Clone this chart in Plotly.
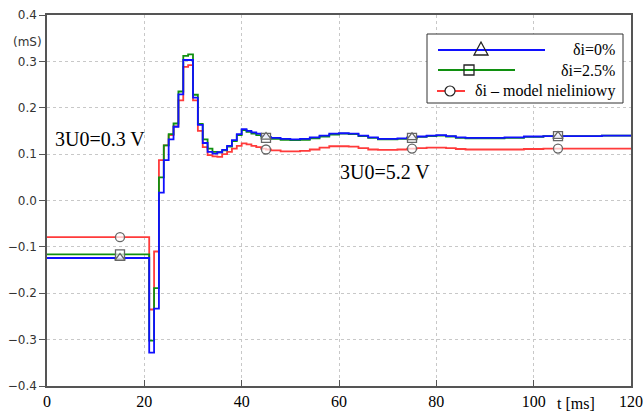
import numpy as np
import plotly.graph_objects as go

# sample times [ms]
t_ms = [0, 21, 22, 23, 24, 25, 26, 27, 28, 29, 30, 31, 32, 33, 34, 35, 36, 37, 38, 39, 40,
        41, 42, 43, 44, 45, 46, 48, 50, 52, 54, 56, 58, 60, 62, 64, 66, 68, 70, 72, 74, 76,
        78, 80, 82, 84, 86, 90, 94, 98, 102, 106, 110, 114, 120]

# delta_i = 0 %
g_0 = [-0.124, -0.328, -0.233, 0.017, 0.087, 0.132, 0.159, 0.229, 0.303, 0.303, 0.222,
       0.163, 0.124, 0.105, 0.101, 0.104, 0.109, 0.118, 0.130, 0.143, 0.154,
       0.150, 0.147, 0.144, 0.140, 0.137, 0.135, 0.133, 0.132, 0.133, 0.136, 0.140, 0.144,
       0.145, 0.144, 0.140, 0.136, 0.133, 0.133, 0.134, 0.136, 0.138, 0.140, 0.141, 0.139,
       0.136, 0.135, 0.135, 0.136, 0.138, 0.139, 0.139, 0.139, 0.140, 0.140]

# delta_i = 2.5 %
g_25 = [-0.116, -0.302, -0.189, 0.050, 0.119, 0.143, 0.166, 0.235, 0.312, 0.315, 0.228,
        0.165, 0.132, 0.112, 0.105, 0.104, 0.108, 0.116, 0.128, 0.141, 0.152,
        0.148, 0.144, 0.141, 0.138, 0.135, 0.133, 0.131, 0.130, 0.131, 0.134, 0.138, 0.142,
        0.144, 0.143, 0.139, 0.135, 0.132, 0.132, 0.133, 0.135, 0.137, 0.139, 0.140, 0.138,
        0.135, 0.134, 0.134, 0.135, 0.137, 0.139, 0.139, 0.139, 0.140, 0.140]

# delta_i - nonlinear model
g_nl = [-0.079, -0.235, -0.110, 0.087, 0.119, 0.141, 0.160, 0.216, 0.288, 0.292, 0.216,
        0.150, 0.115, 0.098, 0.095, 0.094, 0.100, 0.105, 0.112, 0.118, 0.123,
        0.121, 0.118, 0.115, 0.112, 0.110, 0.108, 0.106, 0.106, 0.107, 0.110, 0.114, 0.117,
        0.117, 0.116, 0.113, 0.110, 0.109, 0.109, 0.110, 0.112, 0.113, 0.114, 0.114, 0.113,
        0.111, 0.110, 0.110, 0.110, 0.111, 0.112, 0.112, 0.112, 0.112, 0.112]

marker_t = [15, 45, 75, 105]
x_ticks = [0, 20, 40, 60, 80, 100, 120]
y_ticks = [-0.4, -0.3, -0.2, -0.1, 0.0, 0.1, 0.2, 0.3, 0.4]

series = [
    ("δi – model nieliniowy", g_nl, "#ff3b3b", "circle"),
    ("δi=2.5%", g_25, "#109010", "square"),
    ("δi=0%", g_0, "#1010ff", "triangle-up"),
]

t_arr = np.array(t_ms)
fig = go.Figure()
for name, vals, col, sym in series:
    fig.add_trace(go.Scatter(x=t_ms, y=vals, mode="lines", line=dict(color=col, width=1.8, shape="hv"),
                             name=name, showlegend=False))
for name, vals, col, sym in series:
    idx = np.searchsorted(t_arr, marker_t, side="right") - 1
    fig.add_trace(go.Scatter(x=marker_t, y=[vals[i] for i in idx], mode="markers",
                             marker=dict(symbol=sym, size=9, color="rgba(255,255,255,0.7)",
                                         line=dict(color="#666666", width=1.3)),
                             showlegend=False))

serif = "Liberation Serif"
L, R, T, B = 47, 631, 15, 386
W, H = 643, 412


def px(x):
    return (x - L) / (R - L)


def py(y):
    return (B - y) / (B - T)


shapes = []
annotations = []
# legend box
shapes.append(dict(type="rect", xref="paper", yref="paper", x0=px(427), x1=px(623), y0=py(103), y1=py(34),
                   line=dict(color="#333333", width=1), fillcolor="white", layer="above"))
leg = [("δi=0%", "#1010ff", 50, 438, 545, 481, "tri"),
       ("δi=2.5%", "#109010", 70, 438, 515, 469, "sq"),
       ("δi – model nieliniowy", "#ff3b3b", 91, 437, 465, 450, "circ")]
for txt, col, yy, xa, xb, xm, kind in leg:
    shapes.append(dict(type="line", xref="paper", yref="paper", x0=px(xa), x1=px(xb), y0=py(yy), y1=py(yy),
                       line=dict(color=col, width=2), layer="above"))
    if kind == "tri":
        path = "M {} {} L {} {} L {} {} Z".format(px(xm - 7), py(yy + 5), px(xm + 7), py(yy + 5), px(xm), py(yy - 8))
        shapes.append(dict(type="path", xref="paper", yref="paper", path=path,
                           line=dict(color="#222222", width=1.3), layer="above"))
    elif kind == "sq":
        shapes.append(dict(type="rect", xref="paper", yref="paper", x0=px(xm - 5), x1=px(xm + 5),
                           y0=py(yy + 5), y1=py(yy - 5), line=dict(color="#222222", width=1.3), layer="above"))
    else:
        shapes.append(dict(type="circle", xref="paper", yref="paper", x0=px(xm - 5), x1=px(xm + 5),
                           y0=py(yy + 5), y1=py(yy - 5), line=dict(color="#222222", width=1.2),
                           fillcolor="white", layer="above"))
    annotations.append(dict(xref="paper", yref="paper", x=px(617), y=py(yy), text=txt, showarrow=False,
                            xanchor="right", yanchor="middle", font=dict(family=serif, size=16, color="black")))

annotations += [
    dict(x=10.8, y=0.132, xref="x", yref="y", text="3U0=0.3 V", showarrow=False,
         font=dict(family=serif, size=20, color="black")),
    dict(x=69.5, y=0.061, xref="x", yref="y", text="3U0=5.2 V", showarrow=False,
         font=dict(family=serif, size=20, color="black")),
    dict(xref="paper", yref="paper", x=px(596), y=py(394), text="t [ms]", showarrow=False,
         xanchor="right", yanchor="top", borderpad=0,
         font=dict(family=serif, size=16, color="black")),
    dict(xref="paper", yref="paper", x=px(12), y=py(34), text="(mS)", showarrow=False,
         xanchor="left", yanchor="top", borderpad=0,
         font=dict(family="DejaVu Sans", size=12, color="#333333")),
]

fig.update_layout(
    width=W, height=H, margin=dict(l=L, r=W - R, t=T, b=H - B, autoexpand=False),
    plot_bgcolor="white", paper_bgcolor="white",
    shapes=shapes, annotations=annotations, showlegend=False,
)
fig.update_xaxes(range=[0, 120], tickvals=x_ticks, ticktext=["0", "20", "40", "60", "80", "100", "120"],
                 showgrid=True, gridcolor="#c8c8c8", griddash="dot", gridwidth=1,
                 showline=True, linecolor="#555555", linewidth=1.5, mirror=True, automargin=False,
                 ticks="inside", ticklen=6, tickcolor="#555555", zeroline=False,
                 tickfont=dict(family=serif, size=16, color="black"))
fig.update_yaxes(range=[-0.4, 0.4], tickvals=y_ticks, tickformat=".1f",
                 showgrid=True, gridcolor="#c8c8c8", griddash="dot", gridwidth=1,
                 showline=True, linecolor="#555555", linewidth=1.5, mirror=True, automargin=False,
                 ticks="outside", ticklen=6, tickcolor="#555555", zeroline=False,
                 tickfont=dict(family="DejaVu Sans", size=12, color="#333333"))

fig.write_html("out.html")
